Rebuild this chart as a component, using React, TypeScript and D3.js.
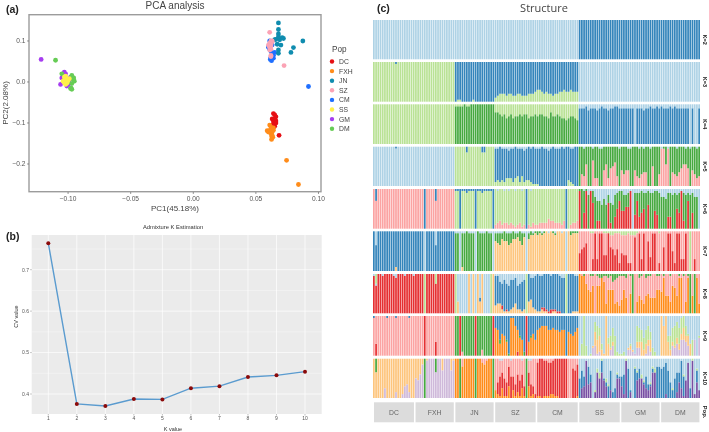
import React from "react";
import * as d3 from "d3";

// ---------- Panel (a) PCA points: [PC1, PC2] ----------
const cmPts = [[0.0615,0.055],[0.062,0.06],[0.064,0.065],[0.061,0.08],[0.06,0.085],[0.063,0.07],[0.065,0.072],[0.063,0.09],[0.062,0.075],[0.062,0.095],[0.061,0.1],[0.092,-0.011],[0.064,0.058],[0.0625,0.052]];
const jnPts = [[0.068,0.144],[0.068,0.128],[0.068,0.117],[0.066,0.104],[0.069,0.103],[0.071,0.108],[0.068,0.11],[0.067,0.092],[0.07,0.09],[0.068,0.078],[0.068,0.07],[0.0875,0.1],[0.08,0.084],[0.078,0.072],[0.072,0.106],[0.065,0.103]];
const szPts = [[0.061,0.121],[0.0725,0.04],[0.062,0.1],[0.063,0.1],[0.061,0.095],[0.06,0.09],[0.061,0.085],[0.062,0.088],[0.062,0.08],[0.061,0.078],[0.062,0.065],[0.062,0.062],[0.063,0.098],[0.062,0.092]];
const dcPts = [[0.064,-0.077],[0.065,-0.08],[0.066,-0.085],[0.063,-0.09],[0.065,-0.09],[0.066,-0.095],[0.064,-0.097],[0.065,-0.102],[0.066,-0.1],[0.065,-0.108],[0.064,-0.11],[0.0685,-0.13],[0.063,-0.105]];
const fxhPts = [[0.0745,-0.191],[0.084,-0.25],[0.061,-0.105],[0.062,-0.11],[0.063,-0.115],[0.064,-0.112],[0.059,-0.119],[0.06,-0.122],[0.062,-0.125],[0.063,-0.122],[0.061,-0.118],[0.0625,-0.132],[0.0635,-0.135],[0.0625,-0.14],[0.064,-0.118],[0.063,-0.13]];
const gmPts = [[-0.1215,0.055],[-0.103,0.024],[-0.102,0.02],[-0.106,-0.006],[-0.101,-0.01],[-0.098,0.012],[-0.097,0.013],[-0.1,-0.007],[-0.103,0.016],[-0.105,0.01],[-0.099,0.005],[-0.099,-0.004]];
const dmPts = [[-0.11,0.053],[-0.105,0.02],[-0.097,0.016],[-0.0955,0.01],[-0.095,0.002],[-0.097,-0.004],[-0.0975,-0.015],[-0.097,-0.018],[-0.098,-0.016],[-0.096,0.006],[-0.1,0.0]];
const ssPts = [[-0.103,0.012],[-0.102,0.008],[-0.103,0.004],[-0.102,0.0],[-0.103,-0.002],[-0.101,0.006],[-0.1,0.003],[-0.101,-0.003],[-0.104,0.002],[-0.102,0.014],[-0.099,0.008],[-0.102,-0.006]];
const legendPops = ["DC","FXH","JN","SZ","CM","SS","GM","DM"];
const legendColors = ["#E60F14","#FF8C1A","#0F8CAF","#FBA3B5","#1F6FFF","#FFF04A","#A63DF0","#66CC55"];
const pcaXTicks = [-0.1,-0.05,0,0.05,0.1];
const pcaYTicks = [0.1,0,-0.1,-0.2];

// ---------- Panel (b) CV error ----------
const kValues = [1,2,3,4,5,6,7,8,9,10];
const cvValues = [0.764,0.376,0.371,0.388,0.387,0.414,0.419,0.441,0.445,0.454];
const cvTicks = [0.4,0.5,0.6,0.7];
const cvMinor = [0.45,0.55,0.65,0.75];

// ---------- Panel (c) admixture ----------
// each character is one individual's share: a=0%, b=5%, c=10% ... u=100%.
const popNames = ["DC","FXH","JN","SZ","CM","SS","GM","DM"];
const popSizes = [19,18,18,19,19,19,18,18];
const n19 = "aaaaaaaaaaaaaaaaaaa";
const n18 = "aaaaaaaaaaaaaaaaaa";
const f19 = "uuuuuuuuuuuuuuuuuuu";
const f18 = "uuuuuuuuuuuuuuuuuu";
const palette: Record<string,string> = { L:"#A6CEE3", B:"#1F78B4", g:"#B2DF8A", G:"#33A02C", p:"#FB9A99", R:"#E31A1C", o:"#FDBF6F", O:"#FF7F00", v:"#CAB2D6", V:"#6A3D9A" };

type Lay = [string, string[]];
const k2Rest = "LLLLLLLL";
const k2Bottom: Lay[] = [["B",[n19,n18,n18,n19,n19,f19,f18,f18]]];
const k2Top: Lay[] = [];

const k3Rest = "ggBBBLLL";
const k3Bottom: Lay[] = [["g",[n19,n18,"abbaaaaabaaaaaaaaa","cdeeedeeddeedddeeef","ggfefeedeeffgffgfff",n19,n18,n18]]];
const k3Top: Lay[] = [["B",["aaaaaaaaaabaaaaaaaa",n18,n18,n19,n19,n19,n18,n18]]];

const k4Rest = "gggggLLL";
const k4Bottom: Lay[] = [
  ["G",[n19,n18,"ttttuttuuuuuuuuuuu","qqpopnopnoopoppnoop","oppoonqooponnmnoonm",n19,n18,n18]],
  ["B",[n19,n18,n18,n19,n19,"ssstrsssrstssrsstts","ssssssasssrsstssts","tssststssssssasaas"]],
];
const k4Top: Lay[] = [];

const k5Rest = "LLgBBGGG";
const k5Bottom: Lay[] = [
  ["p",[n19,n18,n18,n19,n19,"agflaaneeaailejkmfa","igiiaaifeghhaakaag","ttltahgfhjlljaigef"]],
  ["g",[n19,n18,n18,"cdcdceeecefcfcddcbb","baaaaaaaaaaaaadcbaa",n19,n18,n18]],
];
const k5Top: Lay[] = [
  ["B",["aaaaaaaaaabaaaaaaaa",n18,"aaaaadaaaaaaddaaaa",n19,n19,n19,n18,n18]],
  ["L",[n19,n18,n18,"bbabbbcbbabbbcbabab","bbabbcbabbbabaabbaa","aabaaabaabbaaaaaaab","aaabbaaababaabaaaa","baabaaabaaababaaba"]],
];

const k6Rest = "ppgggGGG";
const k6Bottom: Lay[] = [
  ["p",[n19,n18,n18,"cdecddcdcbcdbcacbdc","cddddfeedddcedacdde",n19,n18,n18]],
  ["R",[n19,n18,n18,n19,n19,"taitatnaeeaaandagko","jjlltahogikamaajha","aaaggaakiteaoaiaaa"]],
];
const k6Top: Lay[] = [
  ["B",["agaaaaaaaaaaaaaaaaa","aaaauaaaagaaaaaaaa","bbubbcbbbubbcbbbbu","aaaaaaaaaaaaaauaaaa","aaaaaaaaaaaaauaaaaa",n19,n18,n18]],
  ["L",[n19,n18,n18,"abaababaabaabaaabaa",n19,"aabadbbeggifidhidcb","bddcbucccbccbccbbc","eefccdcdcbcdcdceeu"]],
];

const k7Rest = "BBGooppp";
const k7Bottom: Lay[] = [
  ["o",["aaaaaaaaaacaaaaaaaa",n18,"aaacaaaaaaaaaaaaaa",n19,n19,n19,n18,n18]],
  ["R",[n19,n18,n18,n19,n19,"jlmoaagtgttiitmlile","jiieearatgtaphttae","amattkettggtafagaa"]],
];
const k7Top: Lay[] = [
  ["L",["ahaaaaaaaaaaaaaaaaa","aaaauaaaahaaaaaaaa","bbubbabbbuabbbabbu","bbbbabbbabbabbubaba","aabaabaabaabauaaaaa",n19,n18,n18]],
  ["G",[n19,n18,n18,"efgdfegfedcfgcadcbb","cbbbaaabbaaaaaacbbb",n19,n18,n18]],
  ["g",[n19,n18,n18,n19,n19,"aaaaabbaaaabbbccbbb","cccbcccbaaaaaaaaab","aaaaaaaaaaaaauaaaa"]],
];

const k8Rest = "RRLBBppp";
const k8Bottom: Lay[] = [
  ["o",[n19,n18,"agaaaauauauguaaaau","effcbbbcdfccbcaghdc","bbcbbaabbaaaaaaabbb",n19,n18,n18]],
  ["O",[n19,n18,n18,n19,n19,"uttpmloaoosqfmmmfge","hmiakmagjhfjkiiimm","lsjjgonjssagsajssf"]],
  ["R",[n19,n18,n18,"aaacabaaaaaaaaaaaaa","aabcbbcbbbbaaaaaaaa",n19,n18,n18]],
  ["g",[n19,n18,"uaaaaaaaaaaaaaaaua",n19,n19,n19,n18,n18]],
  ["B",[n19,n18,"aaaaaaaaaaacaaaaaa",n19,n19,n19,n18,n18]],
];
const k8Top: Lay[] = [
  ["g",["afaaaaaaaaaaaaaaaaa","aaaauaaaafaaaaaaaa",n18,"aaaaaaaaaaaaaauaaaa","aaaaaaaaaaaaauaaaaa",n19,n18,n18]],
  ["L",["bbaabaaaabcaaabaaab",n18,n18,"bbefdfgddcgfedaaccb","abbaaabaaabccaaaabb",n19,n18,n18]],
  ["G",[n19,n18,n18,n19,n19,"aabaabbabccbbcbedcb","bbcabuaacbacbbaabb","abaabaaabababuauaa"]],
];

const k9Rest = "ppGBBLLL";
const k9Bottom: Lay[] = [
  ["R",["agaaaaaaaaaaaaaaaaa","aaaauaaaahaaaaaaaa","aauaaaaaauaaaaaaau","aaaaaaaaaacaaauaaaa",n19,n19,n18,n18]],
  ["p",[n19,n18,"aaacaaaaaaaadaaaaa",n19,n19,n19,n18,n18]],
  ["v",[n19,n18,n18,n19,n19,"aaaaaaefbcaaaadfaaa","aaaddcbeeaabfcaaaa","aaaaafegdiihfaaiaj"]],
  ["O",[n19,n18,n18,"onglkhattpljiaahjli","nopppnnonnmnnamlkmo",n19,n18,n18]],
  ["o",[n19,n18,n18,n19,n19,"aaaaaabhhidbugbcaaa","aaabcbaddhdfdgaaaa","upuhdcbdddgdfgaaaa"]],
  ["g",[n19,n18,n18,n19,n19,"agufabafhedaadghkcb","bcaabaaihgghheecaa","aaadhhkiiikfbaiaab"]],
  ["G",[n19,n18,n18,"aacaabbaaaabacaabaa",n19,n19,n18,n18]],
];
const k9Top: Lay[] = [["B",["baaaaabaaabaaaaabaa",n18,n18,n19,n19,n19,n18,n18]]];

const k10Rest = "ovOpRLLL";
const k10Bottom: Lay[] = [
  ["O",[n19,n18,n18,"ecbfbbgaebdbfbagbca","bbabbbccbbaaaabbaab",n19,n18,n18]],
  ["R",[n19,n18,n18,"agkijhklhgjihfahgec",n19,n19,n18,n18]],
  ["v",["aaaaafaaaadaacghdaa",n18,n18,n19,n19,n19,n18,n18]],
  ["V",[n19,n18,n18,n19,n19,"afgthiadnknjgaeaakk","gctadaajkkhfegnnaa","aacaaaadifbjsatcie"]],
  ["B",[n19,n18,n18,n19,n19,"kjfajeaaaagbcgkdfcb","fkapbapefabgdbcaqq","pqqoiekkfokaafaaga"]],
  ["g",[n19,n18,n18,n19,n19,"aaaaaaabcdbacbaaaba","aacaaabbacbaabbcaa","aaaaabaaaabaaacaba"]],
];
const k10Top: Lay[] = [
  ["G",["ahaaaaaaaaaaaaaaaaa","aaaauaaaahaaaaaaaa","aauaaaaaauaaaaaaau","aaaaaaaaaaaaaauaaaa",n19,n19,n18,n18]],
  ["o",[n19,"klidabaaaaaagaaagb",n18,n19,n19,n19,n18,n18]],
  ["p",[n19,n18,"aaaeaaaaaaaacdbaaa",n19,"caabbccbaaaaaauufgd",n19,n18,n18]],
  ["L",[n19,n18,n18,"aabbaaabaaaabaabbaa",n19,n19,n18,n18]],
];

const kRows = [
  { label:"K=2", rest:k2Rest, bottom:k2Bottom, top:k2Top, y0:20, y1:59.3 },
  { label:"K=3", rest:k3Rest, bottom:k3Bottom, top:k3Top, y0:62, y1:101.7 },
  { label:"K=4", rest:k4Rest, bottom:k4Bottom, top:k4Top, y0:104.3, y1:144 },
  { label:"K=5", rest:k5Rest, bottom:k5Bottom, top:k5Top, y0:146.7, y1:186 },
  { label:"K=6", rest:k6Rest, bottom:k6Bottom, top:k6Top, y0:189, y1:228.7 },
  { label:"K=7", rest:k7Rest, bottom:k7Bottom, top:k7Top, y0:231.3, y1:271 },
  { label:"K=8", rest:k8Rest, bottom:k8Bottom, top:k8Top, y0:274, y1:313.3 },
  { label:"K=9", rest:k9Rest, bottom:k9Bottom, top:k9Top, y0:316, y1:355.7 },
  { label:"K=10", rest:k10Rest, bottom:k10Bottom, top:k10Top, y0:358.7, y1:398 },
];

const share = (s: string, i: number) => { const c = s.charCodeAt(i); return isNaN(c) ? 0 : (c - 97) * 5; };

const SANS = "'Liberation Sans', Arial, sans-serif";

function StructureRow({ row, x }: any) {
  const y = d3.scaleLinear().domain([0, 100]).range([row.y1, row.y0]);
  const popOf: number[] = [];
  popSizes.forEach((n, p) => { for (let i = 0; i < n; i++) popOf.push(p); });
  const rects: any[] = [];
  const bottomCols: [string,string][] = row.bottom.map(([c, h]: Lay) => [c, h.join("")]);
  const topCols: [string,string][] = row.top.map(([c, h]: Lay) => [c, h.join("")]);
  popOf.forEach((p, i) => {
    const bx = x(i), bw = x.bandwidth();
    // segments measured from the top are settled first; they win over the others
    let tacc = 0;
    topCols.forEach(([c, s], j) => {
      const v = share(s, i);
      if (v > 0) {
        const lo = Math.max(0, 100 - tacc - v);
        rects.push(<rect key={`t${i}-${j}`} x={bx} width={bw} y={y(100 - tacc)} height={y(lo) - y(100 - tacc)} fill={palette[c]} />);
        tacc = 100 - lo;
      }
    });
    const ceil = 100 - tacc;
    let acc = 0;
    bottomCols.forEach(([c, s], j) => {
      const v = share(s, i);
      const hi = Math.min(ceil, acc + v);
      if (hi > acc) {
        rects.push(<rect key={`b${i}-${j}`} x={bx} width={bw} y={y(hi)} height={y(acc) - y(hi)} fill={palette[c]} />);
        acc = hi;
      }
    });
    if (acc < ceil) {
      rects.push(<rect key={`r${i}`} x={bx} width={bw} y={y(ceil)} height={y(acc) - y(ceil)} fill={palette[row.rest[p]]} />);
    }
  });
  return <g opacity={0.9}>{rects}</g>;
}

export default function App() {
  // panel (a)
  const xP = d3.scaleLinear().domain([-0.1312, 0.102]).range([29, 321]);
  const yP = d3.scaleLinear().domain([-0.2676, 0.1641]).range([191.7, 14.7]);
  const fmtX = d3.format(".2f"), fmtY = d3.format(".1f");
  const pcaGroups: [number[][], string][] = [
    [gmPts, legendColors[6]], [dmPts, legendColors[7]], [ssPts, legendColors[5]],
    [dcPts, legendColors[0]], [fxhPts, legendColors[1]],
    [cmPts, legendColors[4]], [jnPts, legendColors[2]], [szPts, legendColors[3]],
  ];
  // panel (b)
  const xK = d3.scaleLinear().domain([1, 10]).range([48.3, 305]);
  const yK = d3.scaleLinear().domain([0.4, 0.7]).range([394, 269.7]);
  const line = d3.line<number>().x((_, i) => xK(kValues[i])).y((d) => yK(d));
  // panel (c)
  const total = d3.sum(popSizes);
  const xS = d3.scaleBand<number>().domain(d3.range(total)).range([373, 700]).paddingInner(0.22).paddingOuter(0);
  const starts = d3.cumsum([0, ...popSizes]);

  return (
    <svg width={709} height={432} style={{ position: "absolute", left: 0, top: 0, filter: "blur(0.3px)" }} fontFamily={SANS}>
      <rect width={709} height={432} fill="#fff" />

      {/* (a) */}
      <text x={6} y={13} fontSize={10.5} fontWeight="bold" fill="#222">(a)</text>
      <text x={175} y={8.5} fontSize={10} textAnchor="middle" fill="#444">PCA analysis</text>
      {pcaGroups.map(([pts, c], g) => pts.map((d, i) => (
        <circle key={`${g}-${i}`} cx={xP(d[0])} cy={yP(d[1])} r={2.4} fill={c} />
      )))}
      <rect x={29} y={14.7} width={292} height={177} fill="none" stroke="#9c9c9c" strokeWidth={1.4} />
      {pcaXTicks.map((t) => (
        <g key={t}>
          <line x1={xP(t)} x2={xP(t)} y1={192} y2={194} stroke="#555" strokeWidth={0.6} />
          <text x={xP(t)} y={201} fontSize={6.6} textAnchor="middle" fill="#555">{fmtX(t)}</text>
        </g>
      ))}
      {pcaYTicks.map((t) => (
        <g key={t}>
          <line x1={27} x2={29} y1={yP(t)} y2={yP(t)} stroke="#555" strokeWidth={0.6} />
          <text x={25.5} y={yP(t) + 2.3} fontSize={6.6} textAnchor="end" fill="#555">{fmtY(t)}</text>
        </g>
      ))}
      <text x={175} y={211} fontSize={8} textAnchor="middle" fill="#444">PC1(45.18%)</text>
      <text transform="translate(7.5,103) rotate(-90)" fontSize={8} textAnchor="middle" fill="#444">PC2(2.08%)</text>
      <text x={332} y={52} fontSize={8.2} fill="#444">Pop</text>
      {legendPops.map((p, i) => (
        <g key={p}>
          <circle cx={332} cy={61.5 + i * 9.6} r={2.2} fill={legendColors[i]} />
          <text x={339} y={64 + i * 9.6} fontSize={6.8} fill="#444">{p}</text>
        </g>
      ))}

      {/* (b) */}
      <text x={6} y={240} fontSize={10.5} fontWeight="bold" fill="#222">(b)</text>
      <text x={173} y={229} fontSize={5.8} textAnchor="middle" fill="#333">Admixture K Estimation</text>
      <rect x={31.7} y={235} width={290} height={179} fill="#EBEBEB" />
      {cvMinor.map((t) => <line key={t} x1={31.7} x2={321.7} y1={yK(t)} y2={yK(t)} stroke="#fff" strokeWidth={0.35} />)}
      {cvTicks.map((t) => <line key={t} x1={31.7} x2={321.7} y1={yK(t)} y2={yK(t)} stroke="#fff" strokeWidth={0.7} />)}
      {kValues.map((k) => <line key={k} x1={xK(k)} x2={xK(k)} y1={235} y2={414} stroke="#fff" strokeWidth={0.7} />)}
      <path d={line(cvValues) as string} fill="none" stroke="#5A9BCF" strokeWidth={1.4} />
      {cvValues.map((v, i) => <circle key={i} cx={xK(kValues[i])} cy={yK(v)} r={2} fill="#8B0A0A" />)}
      {kValues.map((k) => (
        <g key={k}>
          <line x1={xK(k)} x2={xK(k)} y1={414} y2={415.5} stroke="#555" strokeWidth={0.4} />
          <text x={xK(k)} y={420} fontSize={5} textAnchor="middle" fill="#555">{k}</text>
        </g>
      ))}
      {cvTicks.map((t) => (
        <g key={t}>
          <line x1={30.2} x2={31.7} y1={yK(t)} y2={yK(t)} stroke="#555" strokeWidth={0.4} />
          <text x={29} y={yK(t) + 1.8} fontSize={5} textAnchor="end" fill="#555">{fmtY(t)}</text>
        </g>
      ))}
      <text x={173} y={431} fontSize={5.5} textAnchor="middle" fill="#333">K value</text>
      <text transform="translate(18,316.5) rotate(-90)" fontSize={5.5} textAnchor="middle" fill="#333">CV value</text>

      {/* (c) */}
      <text x={377} y={11.5} fontSize={10.5} fontWeight="bold" fill="#222">(c)</text>
      <text x={544} y={12} fontSize={11} textAnchor="middle" fill="#444" fontFamily="'Open Sans', sans-serif">Structure</text>
      {kRows.map((row) => (
        <g key={row.label}>
          <StructureRow row={row} x={xS} />
          <text transform={`translate(702.5,${(row.y0 + row.y1) / 2}) rotate(90)`} fontSize={5.5} fontWeight="bold" textAnchor="middle" fill="#222">{row.label}</text>
        </g>
      ))}
      {popNames.map((p, i) => {
        const a = i === 0 ? 374 : (xS(starts[i]) as number) + 0.5;
        const b = (xS(starts[i + 1] - 1) as number) + xS.bandwidth() - 0.6;
        return (
          <g key={p}>
            <rect x={a} y={402.3} width={b - a} height={20} fill="#DCDCDC" />
            <text x={(a + b) / 2} y={415} fontSize={6.8} textAnchor="middle" fill="#666">{p}</text>
          </g>
        );
      })}
      <text transform="translate(702.5,412) rotate(90)" fontSize={6} fontWeight="bold" textAnchor="middle" fill="#222">Pop.</text>
    </svg>
  );
}
